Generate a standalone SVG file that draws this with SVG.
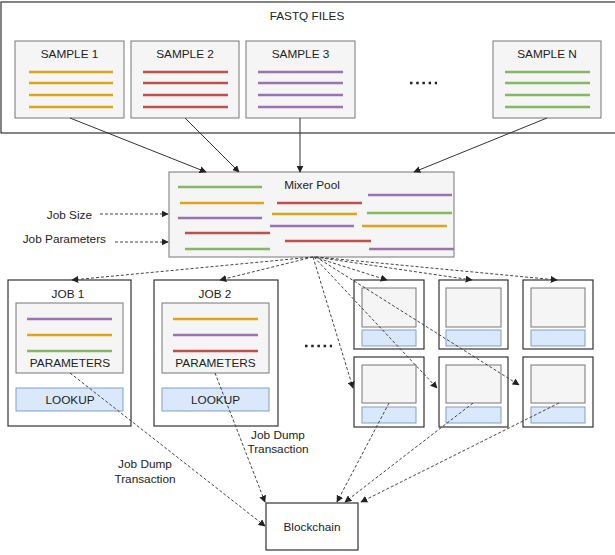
<svg xmlns="http://www.w3.org/2000/svg" width="615" height="555" viewBox="0 0 615 555">
<style>
text{font-family:"Liberation Sans",Arial,sans-serif;font-size:11.8px;fill:#222;text-anchor:middle;dominant-baseline:central}
.frame{fill:#fff;stroke:#333;stroke-width:1.2}
.gray{fill:#f5f5f5;stroke:#777;stroke-width:1}
.blue{fill:#dae8fc;stroke:#7e9ecc;stroke-width:1}
.o{stroke:#dfa31c;stroke-width:2.5}
.r{stroke:#c0504d;stroke-width:2.5}
.p{stroke:#9a74b0;stroke-width:2.5}
.g{stroke:#84b862;stroke-width:2.5}
.solid{fill:none;stroke:#333;stroke-width:1;marker-end:url(#ah)}
.dash{fill:none;stroke:#444;stroke-width:1;stroke-dasharray:3 2;marker-end:url(#ah)}
.dots{stroke:#222;stroke-width:2.5;stroke-dasharray:2.5 3.7}
</style>
<defs>
<marker id="ah" viewBox="0 0 10 10" refX="9" refY="5" markerWidth="7" markerHeight="7" markerUnits="userSpaceOnUse" orient="auto">
<path d="M0,0 L10,5 L0,10 z" fill="#222"/>
</marker>
</defs>
<rect width="615" height="555" fill="#fff"/>

<g id="fastq">
<rect class="frame" x="1" y="2" width="630" height="131"/>
<text x="307" y="16">FASTQ FILES</text>
</g>

<g id="sample1">
<rect class="gray" x="15" y="41" width="109" height="77"/>
<text x="69.5" y="54">SAMPLE 1</text>
<line class="o" x1="29" y1="72" x2="113" y2="72"/>
<line class="o" x1="29" y1="83" x2="113" y2="83"/>
<line class="o" x1="29" y1="95" x2="113" y2="95"/>
<line class="o" x1="29" y1="107" x2="113" y2="107"/>
</g>
<g id="sample2">
<rect class="gray" x="131" y="41" width="108" height="77"/>
<text x="185" y="54">SAMPLE 2</text>
<line class="r" x1="143" y1="72" x2="228" y2="72"/>
<line class="r" x1="143" y1="83" x2="228" y2="83"/>
<line class="r" x1="143" y1="95" x2="228" y2="95"/>
<line class="r" x1="143" y1="107" x2="228" y2="107"/>
</g>
<g id="sample3">
<rect class="gray" x="246" y="41" width="109" height="77"/>
<text x="300.5" y="54">SAMPLE 3</text>
<line class="p" x1="258" y1="72" x2="343" y2="72"/>
<line class="p" x1="258" y1="83" x2="343" y2="83"/>
<line class="p" x1="258" y1="95" x2="343" y2="95"/>
<line class="p" x1="258" y1="107" x2="343" y2="107"/>
</g>
<line class="dots" x1="410" y1="83" x2="437" y2="83"/>
<g id="sampleN">
<rect class="gray" x="493" y="41" width="108" height="77"/>
<text x="547" y="54">SAMPLE N</text>
<line class="g" x1="505" y1="72" x2="590" y2="72"/>
<line class="g" x1="505" y1="83" x2="590" y2="83"/>
<line class="g" x1="505" y1="95" x2="590" y2="95"/>
<line class="g" x1="505" y1="107" x2="590" y2="107"/>
</g>

<g id="mixer">
<rect class="gray" x="169" y="172" width="285" height="85"/>
<text x="312" y="185">Mixer Pool</text>
<line class="g" x1="178" y1="187" x2="262" y2="187"/>
<line class="o" x1="180" y1="203" x2="264" y2="203"/>
<line class="p" x1="178" y1="218" x2="262" y2="218"/>
<line class="r" x1="185" y1="233" x2="270" y2="233"/>
<line class="g" x1="185" y1="249" x2="270" y2="249"/>
<line class="r" x1="277" y1="203" x2="362" y2="203"/>
<line class="o" x1="272" y1="214" x2="357" y2="214"/>
<line class="p" x1="270" y1="226" x2="354" y2="226"/>
<line class="r" x1="285" y1="241" x2="371" y2="241"/>
<line class="p" x1="368" y1="195" x2="452" y2="195"/>
<line class="g" x1="367" y1="213" x2="452" y2="213"/>
<line class="o" x1="362" y1="226" x2="447" y2="226"/>
<line class="p" x1="369" y1="249" x2="454" y2="249"/>
</g>

<g id="jobsize"><text x="92" y="215" style="text-anchor:end">Job Size</text></g>
<g id="jobparams"><text x="106" y="239" style="text-anchor:end">Job Parameters</text></g>

<g id="job1">
<rect class="frame" x="8" y="280" width="123" height="146"/>
<text x="68" y="294">JOB 1</text>
<rect class="gray" x="16" y="303" width="107" height="70"/>
<line class="p" x1="27" y1="319" x2="112" y2="319"/>
<line class="o" x1="27" y1="335" x2="112" y2="335"/>
<line class="g" x1="27" y1="351" x2="112" y2="351"/>
<text x="70" y="363">PARAMETERS</text>
<rect class="blue" x="16" y="388" width="107" height="23"/>
<text x="70" y="399.5">LOOKUP</text>
</g>
<g id="job2">
<rect class="frame" x="154" y="280" width="124" height="146"/>
<text x="215" y="294">JOB 2</text>
<rect class="gray" x="162" y="303" width="107" height="70"/>
<line class="o" x1="173" y1="319" x2="258" y2="319"/>
<line class="p" x1="173" y1="335" x2="258" y2="335"/>
<line class="r" x1="173" y1="351" x2="258" y2="351"/>
<text x="215.5" y="363">PARAMETERS</text>
<rect class="blue" x="162" y="388" width="107" height="23"/>
<text x="215.5" y="399.5">LOOKUP</text>
</g>
<line class="dots" x1="305" y1="346" x2="332" y2="346"/>

<g id="job3"><rect class="frame" x="354" y="280" width="70" height="69"/><rect class="gray" x="362" y="288" width="54" height="39"/><rect class="blue" x="362" y="330" width="54" height="16"/></g>
<g id="job4"><rect class="frame" x="439" y="280" width="69" height="69"/><rect class="gray" x="446" y="288" width="55" height="39"/><rect class="blue" x="446" y="330" width="55" height="16"/></g>
<g id="job5"><rect class="frame" x="523" y="280" width="70" height="69"/><rect class="gray" x="531" y="288" width="54" height="39"/><rect class="blue" x="531" y="330" width="54" height="16"/></g>
<g id="job6"><rect class="frame" x="354" y="357" width="70" height="70"/><rect class="gray" x="362" y="365" width="54" height="38"/><rect class="blue" x="362" y="407" width="54" height="16"/></g>
<g id="job7"><rect class="frame" x="439" y="357" width="69" height="70"/><rect class="gray" x="446" y="365" width="55" height="38"/><rect class="blue" x="446" y="407" width="55" height="16"/></g>
<g id="job8"><rect class="frame" x="523" y="357" width="70" height="70"/><rect class="gray" x="531" y="365" width="54" height="38"/><rect class="blue" x="531" y="407" width="54" height="16"/></g>

<g id="blockchain">
<rect class="frame" x="266" y="503" width="92" height="47"/>
<text x="312" y="527">Blockchain</text>
</g>

<g id="labels">
<text x="145" y="464">Job Dump</text>
<text x="145" y="479">Transaction</text>
<text x="278" y="435">Job Dump</text>
<text x="278" y="449">Transaction</text>
</g>

<g id="connectors">
<line class="solid" x1="70" y1="118" x2="206" y2="172"/>
<line class="solid" x1="185" y1="118" x2="239" y2="172"/>
<line class="solid" x1="300" y1="118" x2="300" y2="172"/>
<line class="solid" x1="547" y1="118" x2="414" y2="172"/>
<line class="dash" x1="100" y1="214" x2="168" y2="214"/>
<line class="dash" x1="115" y1="242" x2="168" y2="242"/>
<line class="dash" x1="313" y1="257" x2="72" y2="280"/>
<line class="dash" x1="313" y1="257" x2="220" y2="280"/>
<line class="dash" x1="314" y1="257" x2="387" y2="280"/>
<line class="dash" x1="315" y1="257" x2="472" y2="280"/>
<line class="dash" x1="316" y1="257" x2="557" y2="280"/>
<line class="dash" x1="313" y1="257" x2="353" y2="388"/>
<line class="dash" x1="314" y1="257" x2="437" y2="388"/>
<line class="dash" x1="316" y1="257" x2="519" y2="385"/>
<line class="dash" x1="70" y1="373" x2="265" y2="526"/>
<line class="dash" x1="215" y1="373" x2="265" y2="502"/>
<line class="dash" x1="389" y1="403" x2="337" y2="502"/>
<line class="dash" x1="473" y1="403" x2="345" y2="502"/>
<line class="dash" x1="559" y1="403" x2="361" y2="502"/>
</g>
</svg>
